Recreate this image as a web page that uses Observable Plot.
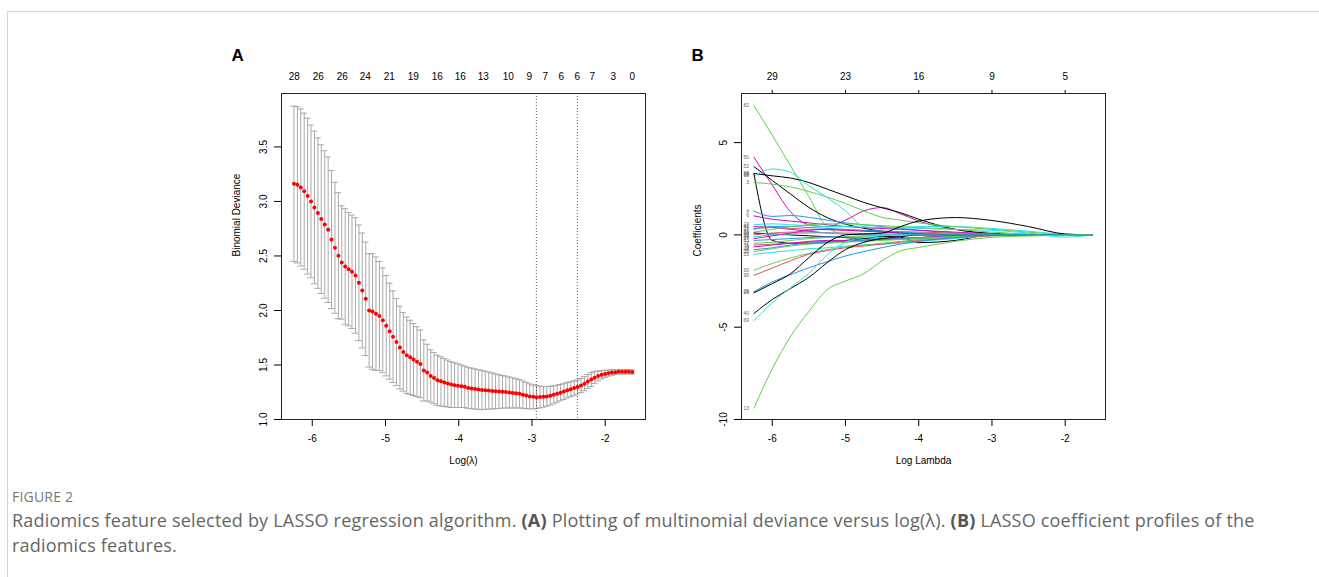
<!DOCTYPE html>
<html><head><meta charset="utf-8">
<script src="https://cdn.jsdelivr.net/npm/d3@7"></script>
<script src="https://cdn.jsdelivr.net/npm/@observablehq/plot@0.6"></script>
<style>
body{margin:0;background:#fff;width:1319px;height:577px;overflow:hidden;position:relative;font-family:"Liberation Sans",Arial,sans-serif;}
#border{position:absolute;left:7px;top:11px;width:1312px;height:566px;border-top:1px solid #d6d6d6;border-left:1px solid #d6d6d6;}
.panel{position:absolute;top:40px;}
#pa{left:200px}#pb{left:660px}
#figlab{position:absolute;left:12px;top:487px;font-family:"Open Sans";font-size:14px;color:#777;letter-spacing:0.2px;}
#cap{position:absolute;left:12px;top:508px;width:1300px;font-family:"Open Sans";font-size:18px;letter-spacing:0.2px;line-height:25px;color:#666;white-space:nowrap;}
#cap b{color:#555}
</style></head><body>
<div id="border"></div>
<div class="panel" id="pa"></div>
<div class="panel" id="pb"></div>
<div id="figlab">FIGURE 2</div>
<div id="cap">Radiomics feature selected by LASSO regression algorithm. <b>(A)</b> Plotting of multinomial deviance versus log(λ). <b>(B)</b> LASSO coefficient profiles of the<br>radiomics features.</div>
<script>
// ---------- Panel A data ----------
const logLambda = [-6.250,-6.203,-6.157,-6.110,-6.063,-6.017,-5.970,-5.923,-5.877,-5.830,
-5.783,-5.737,-5.690,-5.643,-5.597,-5.550,-5.503,-5.457,-5.410,-5.363,
-5.317,-5.270,-5.223,-5.177,-5.130,-5.083,-5.037,-4.990,-4.943,-4.897,
-4.850,-4.803,-4.757,-4.710,-4.663,-4.617,-4.570,-4.523,-4.477,-4.430,
-4.383,-4.337,-4.290,-4.243,-4.197,-4.150,-4.103,-4.057,-4.010,-3.963,
-3.917,-3.870,-3.823,-3.777,-3.730,-3.683,-3.637,-3.590,-3.543,-3.497,
-3.450,-3.403,-3.357,-3.310,-3.263,-3.217,-3.170,-3.123,-3.077,-3.030,
-2.983,-2.937,-2.890,-2.843,-2.797,-2.750,-2.703,-2.657,-2.610,-2.563,
-2.517,-2.470,-2.423,-2.377,-2.330,-2.283,-2.237,-2.190,-2.143,-2.097,
-2.050,-2.003,-1.957,-1.910,-1.863,-1.817,-1.770,-1.723,-1.677,-1.630];
const cvMean = [3.162,3.153,3.128,3.094,3.049,3.000,2.945,2.893,2.838,2.789,
2.740,2.651,2.575,2.502,2.440,2.404,2.379,2.355,2.321,2.254,
2.183,2.107,2.000,1.990,1.970,1.950,1.910,1.860,1.810,1.760,
1.710,1.660,1.620,1.590,1.570,1.550,1.530,1.510,1.450,1.430,
1.400,1.380,1.360,1.350,1.340,1.330,1.320,1.315,1.310,1.305,
1.300,1.290,1.285,1.280,1.275,1.270,1.268,1.265,1.262,1.258,
1.256,1.254,1.252,1.248,1.244,1.240,1.236,1.228,1.220,1.212,
1.208,1.205,1.206,1.208,1.212,1.218,1.226,1.236,1.246,1.256,
1.268,1.278,1.288,1.298,1.312,1.328,1.348,1.366,1.384,1.398,
1.410,1.418,1.425,1.430,1.434,1.437,1.438,1.438,1.437,1.436];
const cvSE = [0.712,0.717,0.720,0.716,0.715,0.700,0.700,0.690,0.682,0.676,
0.667,0.633,0.600,0.578,0.520,0.530,0.520,0.520,0.530,0.530,
0.527,0.520,0.520,0.530,0.520,0.500,0.480,0.460,0.440,0.420,
0.400,0.380,0.360,0.350,0.340,0.330,0.320,0.310,0.280,0.260,
0.240,0.235,0.230,0.225,0.220,0.215,0.210,0.205,0.200,0.195,
0.190,0.188,0.186,0.184,0.182,0.180,0.175,0.170,0.165,0.160,
0.155,0.150,0.146,0.142,0.138,0.134,0.130,0.125,0.120,0.115,
0.110,0.105,0.100,0.095,0.090,0.086,0.082,0.078,0.075,0.072,
0.070,0.068,0.066,0.065,0.065,0.065,0.064,0.062,0.055,0.045,
0.038,0.032,0.028,0.025,0.023,0.022,0.021,0.020,0.020,0.020];
const selectedLambdas = [-2.94, -2.38];
const topTickPosA = [-6.246,-5.918,-5.590,-5.276,-4.949,-4.621,-4.294,-3.980,-3.666,-3.324,-3.037,-2.819,-2.601,-2.382,-2.177,-1.891,-1.631];
const topTickLabA = ["28","26","26","24","21","19","16","16","13","10","9","7","6","6","7","3","0"];
const yTicksA = [1.0,1.5,2.0,2.5,3.0,3.5];
const xTicks = [-6,-5,-4,-3,-2];

// ---------- Panel B data ----------
const knotsB = [-6.25,-6,-5.75,-5.5,-5.25,-5,-4.75,-4.5,-4.25,-4,-3.5,-3,-2.5,-2,-1.63];
const featureIds = ["82","50","52","88","18","16","3","4","6","23","41","11","27","34","60","72","45","57","63","77","36","9","48","30","55","90","95","29","28","40","69","13"];
const coefPaths = [
[7.0,5.4,3.73,2.08,0.42,0.03,0,0,0,0,0,0,0,0,0],
[4.2,2.7,1.25,0.55,0.45,0.8,1.3,1.48,1.15,0.75,0.3,0.05,0,0,0],
[3.7,2.95,2.21,1.49,0.94,0.58,0.36,0.2,0.1,0.05,0,0,0,0,0],
[3.33,3.2,3.08,2.84,2.48,2.12,1.76,1.47,1.2,0.85,0.3,0.08,0,0,0],
[3.2,3.57,3.39,2.66,2.03,1.3,0.45,0.35,0.4,0.45,0.45,0.35,0.2,0.03,0],
[3.3,-0.3,-0.45,-0.45,-0.4,-0.3,-0.2,-0.08,-0.12,-0.42,-0.3,0,0,0,0],
[2.84,2.75,2.6,2.35,2.05,1.7,1.3,0.95,0.8,0.65,0.45,0.3,0.15,0.02,0],
[1.3,1.0,1.05,0.95,0.8,0.65,0.55,0.45,0.35,0.25,0.12,0.03,0,0,0],
[1.03,0.85,0.75,0.65,0.55,0.45,0.4,0.35,0.3,0.25,0.15,0.05,0,0,0],
[0.55,0.6,0.55,0.5,0.45,0.45,0.42,0.4,0.38,0.35,0.3,0.25,0.1,-0.12,0],
[0.45,0.4,0.3,0.2,0.1,0.05,0,0,0,0,0,0,0,0,0],
[0.35,0.4,0.35,0.3,0.28,0.25,0.22,0.2,0.18,0.15,0.1,0.05,0.02,0,0],
[0.3,0.45,0.45,0.4,0.35,0.3,0.25,0.2,0.15,0.1,0.05,0,0,0,0],
[0.15,0.3,0.45,0.55,0.6,0.6,0.55,0.5,0.45,0.4,0.3,0.15,0.05,0,0],
[0.1,0.05,0,-0.05,-0.1,-0.15,-0.2,-0.25,-0.2,-0.15,-0.05,0,0,0,0],
[0.0,0.1,0.15,0.15,0.12,0.1,0.08,0.06,0.04,0.02,0,0,0,0,0],
[-0.1,0.0,0.05,0.1,0.1,0.08,0.05,0.02,0,0,0,0,0,0,0],
[-0.2,-0.05,0.1,0.25,0.3,0.25,0.2,0.15,0.1,0.05,0,0,0,0,0],
[-0.3,-0.25,-0.2,-0.15,-0.1,-0.1,-0.15,-0.2,-0.25,-0.2,-0.1,-0.02,0,0,0],
[-0.45,-0.4,-0.3,-0.2,-0.15,-0.1,-0.1,-0.15,-0.2,-0.15,-0.05,0,0,0,0],
[-0.55,-0.5,-0.45,-0.4,-0.35,-0.35,-0.3,-0.25,-0.2,-0.15,-0.05,0,0,0,0],
[-0.65,-0.55,-0.45,-0.35,-0.3,-0.3,-0.28,-0.25,-0.2,-0.15,-0.05,0,0,0,0],
[-0.8,-0.7,-0.55,-0.45,-0.4,-0.35,-0.3,-0.25,-0.2,-0.15,-0.08,-0.02,0,0,0],
[-0.9,-0.75,-0.6,-0.5,-0.45,-0.4,-0.35,-0.3,-0.25,-0.18,-0.1,-0.03,0,0,0],
[-1.05,-0.95,-0.85,-0.75,-0.7,-0.6,-0.55,-0.5,-0.45,-0.35,-0.2,-0.05,0,0,0],
[-1.92,-1.55,-1.25,-1.0,-0.8,-0.65,-0.55,-0.45,-0.35,-0.25,-0.1,0,0,0,0],
[-2.19,-1.8,-1.4,-1.05,-0.85,-0.7,-0.6,-0.5,-0.4,-0.3,-0.15,-0.05,0,0,0],
[-3.08,-2.55,-2.15,-1.78,-1.45,-1.14,-0.9,-0.69,-0.5,-0.35,-0.15,0,0,0,0],
[-3.13,-2.64,-2.1,-1.23,-0.42,0.0,0.05,0.1,0.45,0.75,0.94,0.78,0.45,0.05,0],
[-4.26,-3.5,-2.9,-2.3,-1.5,-0.8,-0.4,-0.2,-0.1,0,0,0,0,0,0],
[-4.64,-3.68,-2.86,-2.08,-1.09,-0.4,-0.15,-0.05,0,0,0,0,0,0,0],
[-9.38,-7.25,-5.5,-4.15,-2.97,-2.5,-2.1,-1.4,-0.87,-0.68,-0.35,-0.13,-0.06,-0.02,0]
];
const topTickLabB = ["29","23","16","9","5"];
const yTicksB = [-10,-5,0,5];

// ---------- styles ----------
const rPalette = {black:"#000000", red:"#DF536B", green:"#61D04F", blue:"#2297E6", cyan:"#28E2E5", magenta:"#CD0BBC"};
const pathColorNames = ["green","magenta","black","black","cyan","black","green","blue","magenta","cyan","magenta","red","blue","green","black","red","cyan","magenta","blue","green","red","magenta","blue","green","cyan","green","red","blue","black","black","cyan","green"];
const font = "Liberation Sans, Arial, Helvetica, sans-serif";
const minusFmt = d => String(d);

// ---------- Panel A ----------
const rowsA = logLambda.map((x, i) => ({x, m: cvMean[i], lo: cvMean[i] - cvSE[i], hi: cvMean[i] + cvSE[i]}));
const topMapA = new Map(topTickPosA.map((x, i) => [x, topTickLabA[i]]));
const capW = 0.045;

const plotA = Plot.plot({
  width: 460, height: 440,
  marginLeft: 81, marginRight: 15, marginTop: 53, marginBottom: 61,
  x: {domain: [-6.42, -1.45], label: null},
  y: {domain: [1.0, 3.99], label: null},
  style: {fontFamily: font, fontSize: "10px", color: "#000", background: "transparent", overflow: "visible"},
  marks: [
    Plot.ruleX(rowsA, {x: "x", y1: "lo", y2: "hi", stroke: "#a9a9a9", strokeWidth: 1}),
    Plot.ruleY(rowsA, {y: "hi", x1: d => d.x - capW, x2: d => d.x + capW, stroke: "#a9a9a9", strokeWidth: 1}),
    Plot.ruleY(rowsA, {y: "lo", x1: d => d.x - capW, x2: d => d.x + capW, stroke: "#a9a9a9", strokeWidth: 1}),
    Plot.ruleX(selectedLambdas, {stroke: "#555", strokeWidth: 1, strokeDasharray: "1,2"}),
    Plot.dot(rowsA, {x: "x", y: "m", r: 2, fill: "#ff0000", stroke: null}),
    Plot.frame({stroke: "#222", strokeWidth: 1}),
    Plot.axisX(xTicks, {tickSize: 7, tickPadding: 8, tickFormat: minusFmt, label: null}),
    Plot.axisX(topTickPosA, {anchor: "top", tickSize: 0, tickPadding: 14, tickFormat: d => topMapA.get(d), label: null}),
    Plot.axisY(yTicksA, {tickSize: 7, tickPadding: 8, tickRotate: -90, tickFormat: d => d.toFixed(1), label: null}),
    Plot.text(["Log(λ)"], {frameAnchor: "bottom", dy: 44, fontSize: 10}),
    Plot.text(["Binomial Deviance"], {frameAnchor: "left", dx: -45, rotate: -90, fontSize: 10}),
    Plot.text(["A"], {frameAnchor: "top-left", dx: -50, dy: -33, textAnchor: "start", lineAnchor: "bottom", fontSize: 17, fontWeight: "bold"})
  ]
});
document.getElementById("pa").appendChild(plotA);

// ---------- Panel B ----------
const rowsB = coefPaths.flatMap((vals, p) => vals.map((v, k) => ({id: featureIds[p], x: knotsB[k], y: v})));
const labelRows = coefPaths.map((vals, p) => ({id: featureIds[p], x: knotsB[0], y: vals[0]}));
const topMapB = new Map(xTicks.map((x, i) => [x, topTickLabB[i]]));

const plotB = Plot.plot({
  width: 460, height: 440,
  marginLeft: 81, marginRight: 15, marginTop: 53, marginBottom: 61,
  x: {domain: [-6.42, -1.45], label: null},
  y: {domain: [-10.0, 7.66], label: null},
  color: {type: "ordinal", domain: featureIds, range: pathColorNames.map(c => rPalette[c])},
  style: {fontFamily: font, fontSize: "10px", color: "#000", background: "transparent", overflow: "visible"},
  marks: [
    Plot.line(rowsB, {x: "x", y: "y", z: "id", stroke: "id", strokeWidth: 1, curve: "monotone-x"}),
    Plot.text(labelRows, {x: "x", y: "y", text: "id", dx: -5, textAnchor: "end", fontSize: 5, fill: "#666"}),
    Plot.frame({stroke: "#222", strokeWidth: 1}),
    Plot.axisX(xTicks, {tickSize: 7, tickPadding: 8, tickFormat: minusFmt, label: null}),
    Plot.axisX(xTicks, {anchor: "top", tickSize: 4, tickPadding: 10, tickFormat: d => topMapB.get(d), label: null}),
    Plot.axisY(yTicksB, {tickSize: 7, tickPadding: 8, tickRotate: -90, tickFormat: minusFmt, label: null}),
    Plot.text(["Log Lambda"], {frameAnchor: "bottom", dy: 44, fontSize: 10}),
    Plot.text(["Coefficients"], {frameAnchor: "left", dx: -44, rotate: -90, fontSize: 10}),
    Plot.text(["B"], {frameAnchor: "top-left", dx: -50, dy: -33, textAnchor: "start", lineAnchor: "bottom", fontSize: 17, fontWeight: "bold"})
  ]
});
document.getElementById("pb").appendChild(plotB);
</script>
</body></html>
